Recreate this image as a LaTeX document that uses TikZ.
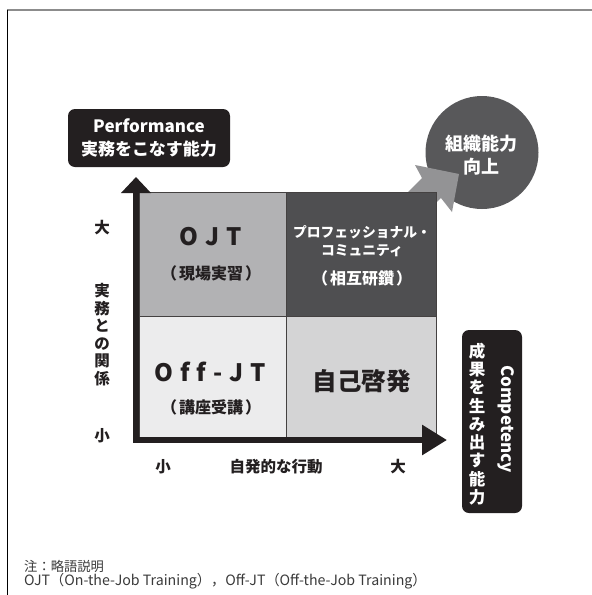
\documentclass[tikz,border=0pt]{standalone}
\usepackage{fontspec}
\setmainfont{Noto Sans CJK JP}
\usetikzlibrary{arrows.meta}
\definecolor{inkblack}{HTML}{231F20}
\definecolor{framegray}{HTML}{8C8C8C}
\definecolor{cellmid}{HTML}{B2B2B4}
\definecolor{celldark}{HTML}{4F4F51}
\definecolor{celllight}{HTML}{ECECED}
\definecolor{cellpale}{HTML}{D4D4D5}
\definecolor{circgray}{HTML}{58585A}
\definecolor{arrowgray}{HTML}{939395}
\definecolor{notegray}{HTML}{3A3A3A}
\tikzset{
  darkbox/.style={fill=inkblack, rounded corners=7pt, inner sep=0pt},
  cellbox/.style={draw=inkblack!85, line width=0.8pt, inner sep=0pt},
  axisline/.style={draw=inkblack, line width=6pt, line join=miter},
  lbl/.style={text=inkblack, inner sep=0pt, font=\bfseries\fontsize{15.5}{17.5}\selectfont},
  celltext/.style={inner sep=0pt, align=center},
  notetext/.style={anchor=west, inner sep=0pt, text=notegray}
}
\begin{document}
\begin{tikzpicture}[x=1pt,y=-1pt]
\useasboundingbox (0,0) rectangle (592,595);
\fill[white] (0,0) rectangle (592,595);
% frame
\coordinate (fa) at (7,9.5);
\coordinate (fb) at (592,9.5);
\coordinate (fc) at (7,595);
\draw[framegray, line width=2pt] (fa) -- (fb);
\draw[black, line width=0.8pt] (fa) -- (fc);

% Performance box
\node[darkbox, minimum width=162pt, minimum height=58pt] (perf) at (149,138) {};
\node[text=white, inner sep=0pt, align=center, font=\bfseries\fontsize{17}{23}\selectfont] (perft) at (149,138) {Performance\\実務をこなす能力};

% goal circle
\node[circle, fill=circgray, minimum size=113pt, inner sep=0pt] (goal) at (482,152.5) {};
\node[text=white, inner sep=0pt, align=center, font=\bfseries\fontsize{18}{23}\selectfont] (goalt) at (481,155) {組織能力\\向上};

% gray block arrow
\fill[arrowgray] (375,225) -- (422,178) -- (415,165) -- (459,174) -- (452,212) -- (441,198) -- (393,243) -- cycle;

% cells
\node[cellbox, fill=cellmid, minimum width=147pt, minimum height=124pt] (ojt) at (212.5,254) {};
\node[cellbox, fill=celldark, minimum width=150pt, minimum height=124pt] (pro) at (361,254) {};
\node[cellbox, fill=celllight, minimum width=147pt, minimum height=121pt] (off) at (212.5,376.5) {};
\node[cellbox, fill=cellpale, minimum width=150pt, minimum height=121pt] (self) at (361,376.5) {};

% cell texts
\node[celltext, text=inkblack, font=\bfseries\fontsize{24}{26}\selectfont] (ojtt) at (211,237) {O\hspace{7pt}J\hspace{7pt}T};
\node[celltext, text=inkblack, font=\bfseries\fontsize{16}{17}\selectfont] (ojts) at (211,273) {（\hspace{2pt}現場実習\hspace{2pt}）};
\node[celltext, text=white, font=\bfseries\fontsize{13.8}{18}\selectfont] (prot) at (362,241) {プロフェッショナル・\\コミュニティ};
\node[celltext, text=white, font=\bfseries\fontsize{16}{17}\selectfont] (pros) at (362,278) {（\hspace{2pt}相互研鑽\hspace{2pt}）};
\node[celltext, text=inkblack, font=\bfseries\fontsize{24}{26}\selectfont] (offt) at (210,372) {O\hspace{7pt}f\hspace{7pt}f\hspace{7pt}-\hspace{7pt}J\hspace{7pt}T};
\node[celltext, text=inkblack, font=\bfseries\fontsize{16}{17}\selectfont] (offs) at (211,407) {（\hspace{2pt}講座受講\hspace{2pt}）};
\node[celltext, text=inkblack, font=\bfseries\fontsize{24.5}{26}\selectfont] (selft) at (361.5,381) {自己啓発};

% axes
\coordinate (ytip) at (136,177);
\coordinate (origin) at (136,440);
\coordinate (xtip) at (447,440);
\draw[axisline, {Triangle[length=16pt,width=29pt]}-{Triangle[length=25pt,width=29pt]}] (ytip) -- (origin) -- (xtip);

% axis labels
\node[lbl] (ybig) at (102,228) {大};
\node[lbl, align=center] (yname) at (102,334.5) {実\\務\\と\\の\\関\\係};
\node[lbl] (ysmall) at (102,436) {小};
\node[lbl] (xsmall) at (163,467) {小};
\node[lbl] (xname) at (276,467) {自発的な行動};
\node[lbl] (xbig) at (398,467) {大};

% Competency box
\node[darkbox, minimum width=60pt, minimum height=183pt] (comp) at (492,421.5) {};
\node[text=white, inner sep=0pt, rotate=-90, font=\bfseries\fontsize{17}{20}\selectfont] (compt) at (506,419) {Competency};
\node[text=white, inner sep=0pt, align=center, font=\bfseries\fontsize{16.5}{18.3}\selectfont] (compj) at (477,424) {成\\果\\を\\生\\み\\出\\す\\能\\力};

% note
\node[notetext, font=\fontsize{13.3}{15}\selectfont] (note1) at (24,566) {注：略語説明};
\node[notetext, font=\fontsize{14.2}{15}\selectfont] (note2) at (24,581) {OJT（On-the-Job Training），Off-JT（Off-the-Job Training）};
\end{tikzpicture}
\end{document}
